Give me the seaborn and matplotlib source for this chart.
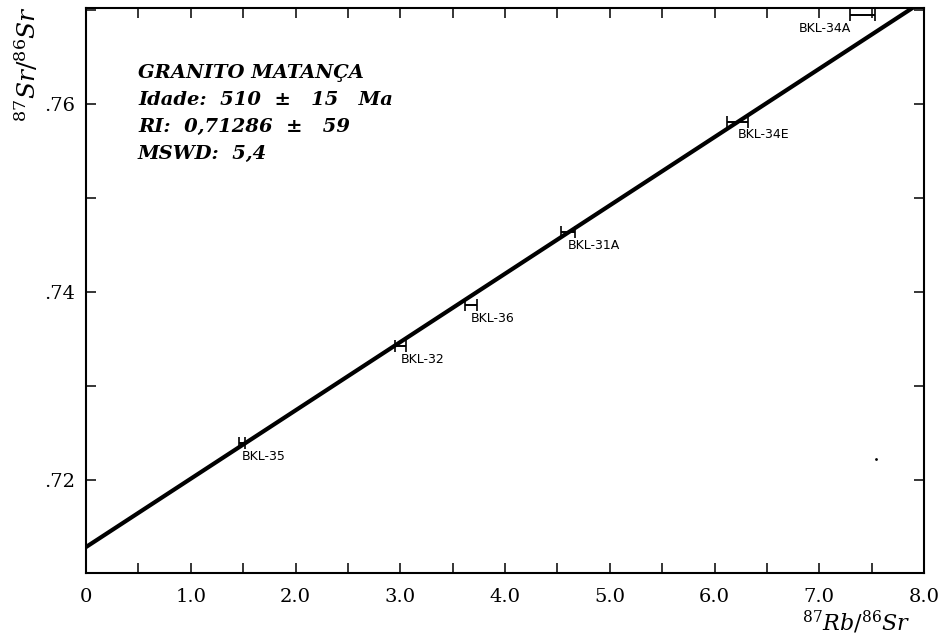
import matplotlib
matplotlib.use("Agg")
import matplotlib.pyplot as plt
from matplotlib.ticker import MultipleLocator, FixedLocator, FixedFormatter
import numpy as np
import pandas as pd
import seaborn as sns

# amostras (87Rb/86Sr, 87Sr/86Sr, erro em x)
amostras = ["BKL-35", "BKL-32", "BKL-36", "BKL-31A", "BKL-34E", "BKL-34A"]
rb_sr = [1.49, 3.00, 3.675, 4.60, 6.22, 7.41]
sr_sr = [0.72390, 0.73426, 0.73862, 0.74641, 0.75812, 0.76947]
erro_x = [0.03, 0.05, 0.055, 0.07, 0.10, 0.12]

# isocrona
razao_inicial = 0.71286
idade_ma = 510
lambda_rb = 1.42e-11
inclinacao = np.exp(lambda_rb * idade_ma * 1e6) - 1
iso_x = [0.0, 8.0]
iso_y = [razao_inicial + inclinacao * v for v in iso_x]

# ponto solto no canto inferior direito
extra_x = [7.54]
extra_y = [0.7222]

df = pd.DataFrame({"amostra": amostras, "x": rb_sr, "y": sr_sr, "ex": erro_x})

sns.set_style("ticks")
plt.rcParams["font.family"] = ["DejaVu Serif"]
plt.rcParams["mathtext.fontset"] = "dejavuserif"
plt.rcParams["text.color"] = "black"
plt.rcParams["axes.edgecolor"] = "black"
plt.rcParams["xtick.color"] = "black"
plt.rcParams["ytick.color"] = "black"

fig = plt.figure(figsize=(9.41, 6.39), dpi=100)
ax = fig.add_axes([0.0914, 0.1033, 0.8906, 0.8842])

sns.lineplot(x=iso_x, y=iso_y, ax=ax, color="black", linewidth=3.0)

ax.errorbar(df["x"], df["y"], xerr=df["ex"], fmt="none", ecolor="black",
            elinewidth=1.4, capsize=4, capthick=1.2, zorder=3)
sns.scatterplot(x=extra_x, y=extra_y, ax=ax, color="black", s=4, linewidth=0)

# rótulos das amostras
for _, r in df.iterrows():
    if r["amostra"] == "BKL-34A":
        dx = -46
    else:
        dx = 0
    ax.annotate(r["amostra"], (r["x"], r["y"]), xytext=(dx, -5),
                textcoords="offset points", fontsize=9, color="black",
                family="DejaVu Sans", va="top")

ax.set_xlim(0, 8)
ax.set_ylim(0.7101, 0.7702)

xt = [0, 1, 2, 3, 4, 5, 6, 7, 8]
ax.xaxis.set_major_locator(FixedLocator(xt))
ax.xaxis.set_major_formatter(FixedFormatter(["0"] + [f"{v:.1f}" for v in xt[1:]]))
ax.xaxis.set_minor_locator(MultipleLocator(0.5))

yt = [0.72, 0.74, 0.76]
ax.yaxis.set_major_locator(FixedLocator(yt))
ax.yaxis.set_major_formatter(FixedFormatter([".72", ".74", ".76"]))
ax.yaxis.set_minor_locator(FixedLocator([0.73, 0.75, 0.77]))

ax.tick_params(which="both", direction="in", length=7, width=1.1,
               top=True, right=True, labelsize=14)
ax.tick_params(axis="x", pad=11)
ax.tick_params(axis="y", pad=8)

for s in ax.spines.values():
    s.set_linewidth(1.5)
    s.set_visible(True)

fig.text(0.014, 0.99, r"$^{87}Sr/^{86}Sr$", rotation=90, ha="left", va="top",
         fontsize=18)
fig.text(0.968, 0.004, r"$^{87}Rb/^{86}Sr$", ha="right", va="bottom",
         fontsize=16)

info = ["GRANITO MATANÇA",
        "Idade:  510  ±   15   Ma",
        "RI:  0,71286  ±   59",
        "MSWD:  5,4"]
for i, linha in enumerate(info):
    ax.text(0.062, 0.885 - i * 0.048, linha, transform=ax.transAxes,
            fontsize=14, style="italic", weight="bold",
            family="DejaVu Serif", va="center")

fig.savefig("out.png", dpi=100)
